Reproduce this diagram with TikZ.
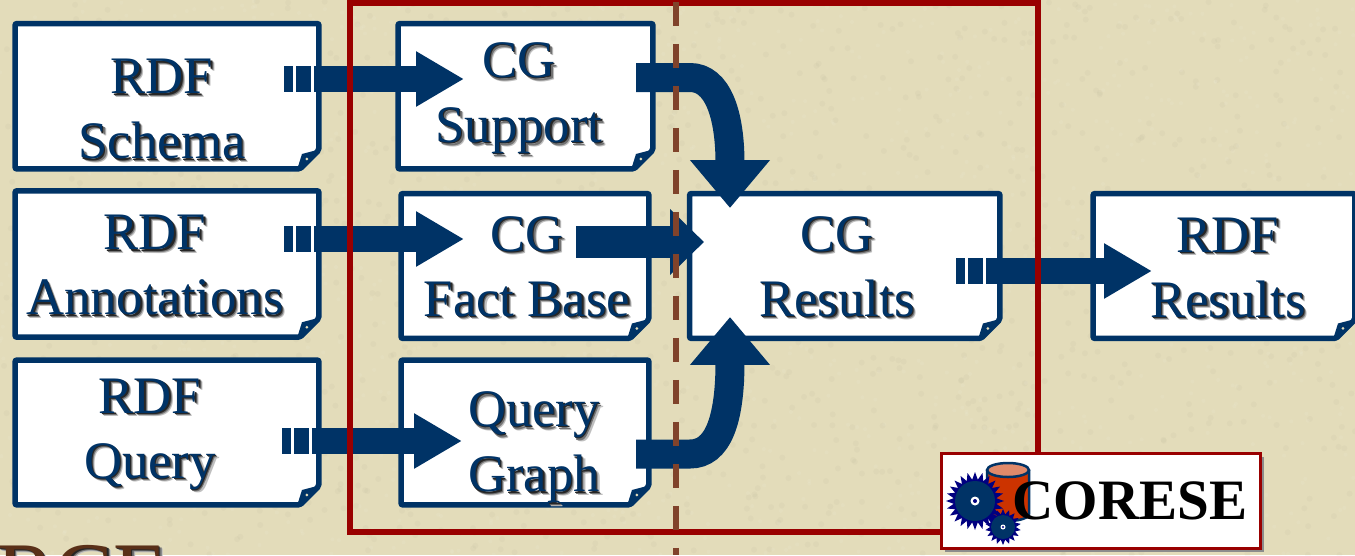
\documentclass[tikz,border=0pt]{standalone}
\usepackage{fontspec}
\setmainfont{Liberation Serif}
\usetikzlibrary{arrows.meta,shapes.geometric,shadows}

\definecolor{paper}{HTML}{E3DCBA}
\definecolor{docblue}{HTML}{003366}
\definecolor{gearblue}{HTML}{000080}
\definecolor{zonered}{HTML}{990000}
\definecolor{splitbrown}{HTML}{80432B}
\definecolor{dbred}{HTML}{CC3300}
\definecolor{dbtop}{HTML}{E08A6A}
\definecolor{titlebrown}{HTML}{5A3018}

% text with its soft shadow
\newcommand{\shadetext}[1]{\leavevmode\rlap{\kern2pt\raisebox{-2pt}{\color{black!25}#1}}\rlap{\kern1.4pt\raisebox{-1.4pt}{\color{black!55}#1}}\rlap{\kern0.8pt\raisebox{-0.8pt}{\color{black!85}#1}}#1}
% document shape with a folded corner
\newcommand{\docbody}[1]{
	\draw[docblue, fill=white, line width=0.11cm, rounded corners=0.04cm] (#1.north west) -- (#1.north east) -- ([shift={(0,-19)}]#1.south east) -- ([shift={(-19,0)}]#1.south east) -- (#1.south west) -- cycle;
	\fill[docblue] ([shift={(2,-20)}]#1.south east) -- ([shift={(-17,-15)}]#1.south east) -- ([shift={(-22,1)}]#1.south east) -- ([shift={(-18,2)}]#1.south east) -- cycle;
	\fill[paper] ([shift={(-12,-10)}]#1.south east) circle (1.5);
}

\tikzset{
	docbox/.style={rectangle, inner sep=0pt, outer sep=0pt},
	doctext/.style={align=center, text=docblue, inner sep=0pt, font=\fontsize{30}{37}\selectfont},
	flowarrow/.style={docblue, line width=0.52cm, dash pattern=on 0.18cm off 0.06cm on 0.3cm off 0.06cm on 20cm, -{Triangle[length=0.96cm,width=1.04cm]}},
	bendarrow/.style={docblue, line width=0.58cm, -{Triangle[length=0.96cm,width=1.54cm]}},
	gearwheel/.style={star, fill=gearblue, inner sep=0pt, outer sep=0pt},
}

\begin{document}
\begin{tikzpicture}[x=0.02cm, y=-0.02cm]
	\clip (0,0) rectangle (1355,555);
	\useasboundingbox (0,0) rectangle (1355,555);
	\fill[paper] (0,0) rectangle (1355,555);
	% mottled paper
	\pgfmathsetseed{7}
	\foreach \i in {1,...,1400} {
		\fill[white, opacity=0.07] (rnd*1355,rnd*555) circle (2);
		\fill[black!60!paper, opacity=0.03] (rnd*1355,rnd*555) circle (3);
	}

	\node[text=titlebrown, font=\fontsize{50}{54}\selectfont, anchor=base west, inner sep=0pt] (title) at (-4,603) {\shadetext{RCF}};

	% boxes
	\node[docbox, minimum width=6.08cm, minimum height=2.91cm] (schema) at (167,96.25) {};
	\node[docbox, minimum width=6.08cm, minimum height=2.93cm] (annotations) at (167,264) {};
	\node[docbox, minimum width=6.08cm, minimum height=2.9cm] (query) at (167,432.5) {};
	\node[docbox, minimum width=5.1cm, minimum height=2.91cm] (support) at (525.5,96.25) {};
	\node[docbox, minimum width=4.96cm, minimum height=2.9cm] (factbase) at (525,266) {};
	\node[docbox, minimum width=4.96cm, minimum height=2.9cm] (querygraph) at (525,432.5) {};
	\node[docbox, minimum width=6.21cm, minimum height=2.9cm] (results) at (844.75,266) {};
	\node[docbox, minimum width=5.24cm, minimum height=2.9cm] (rdfresults) at (1224,266) {};
	\foreach \b in {schema,annotations,query,support,factbase,querygraph,results,rdfresults}
		\docbody{\b};

	% labels
	\node[doctext] (schema text) at (162,111) {\shadetext{RDF}\\\shadetext{Schema}};
	\node[doctext] (annotations text) at (155,267) {\shadetext{RDF}\\\shadetext{Annotations}};
	\node[doctext] (query text) at (150,436) {\shadetext{RDF}\\\shadetext{Query}};
	\node[doctext] (support text) at (519,100) {\shadetext{CG}\\\shadetext{Support}};
	\node[doctext] (factbase text) at (527,268.5) {\shadetext{CG}\\\shadetext{Fact Base}};
	\node[doctext] (querygraph text) at (534,449) {\shadetext{Query}\\\shadetext{Graph}};
	\node[doctext] (results text) at (837,268.5) {\shadetext{CG}\\\shadetext{Results}};
	\node[doctext] (rdfresults text) at (1228,269.5) {\shadetext{RDF}\\\shadetext{Results}};

	% arrow ends
	\coordinate (schema out) at (284,79);
	\coordinate (support in) at (464,79);
	\coordinate (annotations out) at (284,239);
	\coordinate (factbase in) at (464,239);
	\coordinate (query out) at (282,441);
	\coordinate (querygraph in) at (462,441);
	\coordinate (support out) at (636,77.5);
	\coordinate (results top) at (730,208);
	\coordinate (factbase out) at (576,242);
	\coordinate (results left) at (704,242);
	\coordinate (querygraph out) at (636,454);
	\coordinate (results bottom) at (730,317);
	\coordinate (results out) at (956,271);
	\coordinate (rdfresults in) at (1152,271);

	\draw[flowarrow] (schema out) -- (support in);
	\draw[flowarrow] (annotations out) -- (factbase in);
	\draw[flowarrow] (query out) -- (querygraph in);
	\draw[flowarrow] (results out) -- (rdfresults in);
	\draw[docblue, line width=0.64cm, -{Triangle[length=0.68cm,width=1.28cm]}] (factbase out) -- (results left);
	\draw[bendarrow] (support out) -- (690,77.5) .. controls (718,77.5) and (730,115) .. (results top);
	\draw[bendarrow] (querygraph out) -- (690,454) .. controls (718,454) and (730,420) .. (results bottom);

	% zones
	\draw[zonered, line width=0.12cm] (350,2.5) rectangle (1038,532);
	\draw[splitbrown, line width=0.12cm, dash pattern=on 0.48cm off 0.36cm] (676,2) -- (676,555);

	% logo
	\node[draw=zonered, fill=white, line width=0.06cm, minimum width=6.4cm, minimum height=1.9cm, inner sep=0pt, outer sep=0pt, drop shadow={shadow xshift=0.07cm, shadow yshift=-0.07cm, fill=black!45, opacity=1}] (logo) at (1101,501) {};
	\draw[docblue, fill=dbred, line width=0.05cm] (987,470) -- (987,514) arc[start angle=180, end angle=0, x radius=21, y radius=7] -- (1029,470);
	\draw[docblue, fill=dbtop, line width=0.05cm] (1008,470) circle[x radius=21, y radius=7];
	\node[gearwheel, star points=24, star point ratio=1.35, minimum size=1.16cm] (big gear) at (975,501) {};
	\fill[docblue] (big gear) circle (20);
	\fill[white] (big gear) circle (4.5);
	\fill[gearblue] (big gear) circle (2);
	\node[gearwheel, star points=18, star point ratio=1.4, minimum size=0.72cm] (small gear) at (1003,527) {};
	\fill[docblue] (small gear) circle (12);
	\fill[white] (small gear) circle (2.5);
	\fill[gearblue] (small gear) circle (1.2);
	\node[font=\fontsize{32.5}{36}\selectfont\bfseries, inner sep=0pt, anchor=base west] (corese) at (1012,519) {CORESE};
\end{tikzpicture}
\end{document}
